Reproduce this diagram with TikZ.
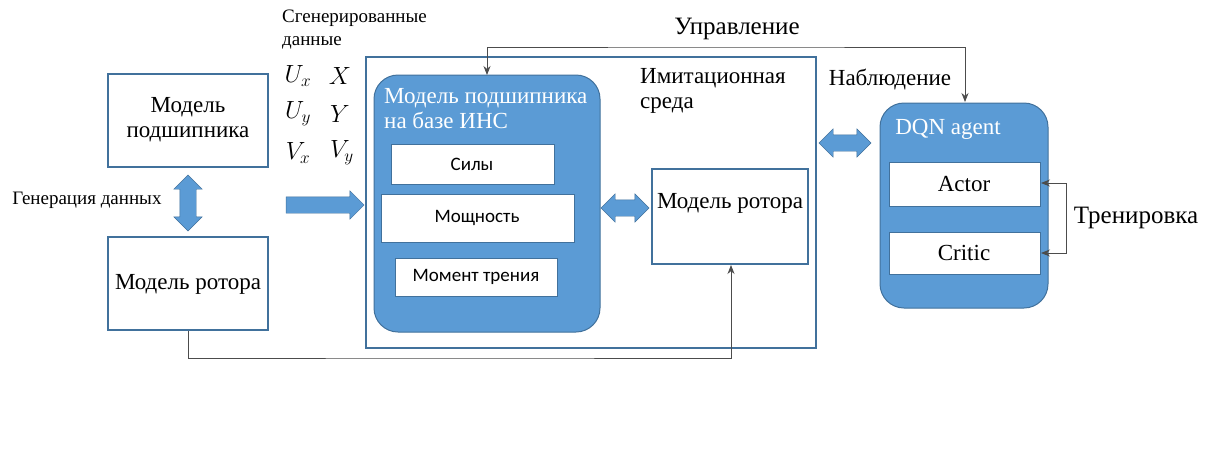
\documentclass[tikz,border=0pt]{standalone}
\usepackage{fontspec}
\setmainfont{Liberation Serif}
\newfontfamily\boxfont{Carlito}
\usetikzlibrary{arrows.meta, shapes.arrows}
\definecolor{frame}{RGB}{65,113,156}
\definecolor{fillblue}{RGB}{91,155,213}

\begin{document}
\begin{tikzpicture}[x=1pt, y=-1pt]
\tikzstyle{block} = [draw=frame, line width=2.6pt, fill=white]
\tikzstyle{rblock} = [draw=frame, line width=1pt, fill=fillblue, rounded corners=24pt]
\tikzstyle{inner} = [draw=frame, line width=0.6pt, fill=white]
\tikzstyle{label} = [font=\fontsize{23}{25}\selectfont, align=center, inner sep=0pt]
\tikzstyle{small} = [font=\boxfont\fontsize{19}{21}\selectfont]
\tikzstyle{fat} = [fill=fillblue, draw=frame, line width=0.4pt, single arrow, inner sep=8pt, single arrow head extend=6pt]
\tikzstyle{dfat} = [fill=fillblue, draw=frame, line width=0.4pt, double arrow, inner sep=8pt, double arrow head extend=6pt]
\tikzstyle{wire} = [draw=black!70, line width=0.8pt, -{Stealth[length=9pt,width=7pt]}]
\tikzstyle{math} = [font=\fontsize{26}{28}\selectfont]

\useasboundingbox (0,0) rectangle (1215,451);

% left side
\draw[block] (108,74) rectangle (268,167);
\node[label] (bearing) at (188,120) {Модель\\подшипника};
\draw[block] (108,237) rectangle (268,330);
\node[label] (rotor) at (188,284) {Модель ротора};
\node[dfat, rotate=90, minimum height=56pt] (gen) at (188,203) {};
\node[font=\fontsize{19}{21}\selectfont, inner sep=0pt] (genlbl) at (87,200) {Генерация данных};

\node[font=\fontsize{19}{23}\selectfont, align=left, anchor=north west, inner sep=0pt] (data) at (282,10) {Сгенерированные\\данные};
\node[math] (ux) at (298,76) {$U_x$};
\node[math] (xx) at (340,76) {$X$};
\node[math] (uy) at (298,114) {$U_y$};
\node[math] (yy) at (340,114) {$Y$};
\node[math] (vx) at (298,153) {$V_x$};
\node[math] (vy) at (342,153) {$V_y$};
\node[fat, minimum height=78pt] (feed) at (321,205) {};

% simulation environment
\draw[block] (366,57) rectangle (816,348);
\node[label, align=left, anchor=north west] (envlbl) at (640,68) {Имитационная\\среда};
\draw[rblock] (374,75) rectangle (600,332);
\node[label, align=left, anchor=north west, text=white] (annlbl) at (384,88) {Модель подшипника\\на базе ИНС};
\draw[inner] (391,144) rectangle (554,184);
\node[small] (forces) at (472,164) {Силы};
\draw[inner] (381,194) rectangle (574,242);
\node[small] (power) at (477,218) {Мощность};
\draw[inner] (395,258) rectangle (557,296);
\node[small] (friction) at (476,277) {Момент трения};
\node[dfat, minimum height=48pt] (link) at (625,208) {};
\draw[block] (652,169) rectangle (808,264);
\node[label] (rotor2) at (730,203) {Модель ротора};

% agent
\node[dfat, minimum height=52pt] (obs) at (845,143) {};
\draw[rblock] (880,103) rectangle (1048,308);
\node[label, text=white] (agent) at (948,129) {DQN agent};
\draw[inner] (889,162) rectangle (1040,206);
\node[label] (actor) at (964,184) {Actor};
\draw[inner] (889,232) rectangle (1040,274);
\node[label] (critic) at (964,253) {Critic};
\coordinate (a) at (1041,183);
\coordinate (c) at (1041,253);
\draw[wire, {Stealth[length=9pt,width=7pt]}-{Stealth[length=9pt,width=7pt]}] (a) -| (1066,218) |- (c);
\node[label, font=\fontsize{25}{27}\selectfont] (train) at (1136,218) {Тренировка};

% control loop
\node[label, font=\fontsize{25}{27}\selectfont] (ctrl) at (737,29) {Управление};
\node[label] (obslbl) at (890,79) {Наблюдение};
\coordinate (ann) at (487,75);
\coordinate (dqn) at (965,102);
\draw[wire, {Stealth[length=9pt,width=7pt]}-{Stealth[length=9pt,width=7pt]}] (ann) |- (726,47) -| (dqn);

% bottom feedback
\coordinate (b0) at (188,331);
\coordinate (r0) at (731,265);
\draw[wire] (b0) |- (460,358) -| (r0);
\end{tikzpicture}
\end{document}
